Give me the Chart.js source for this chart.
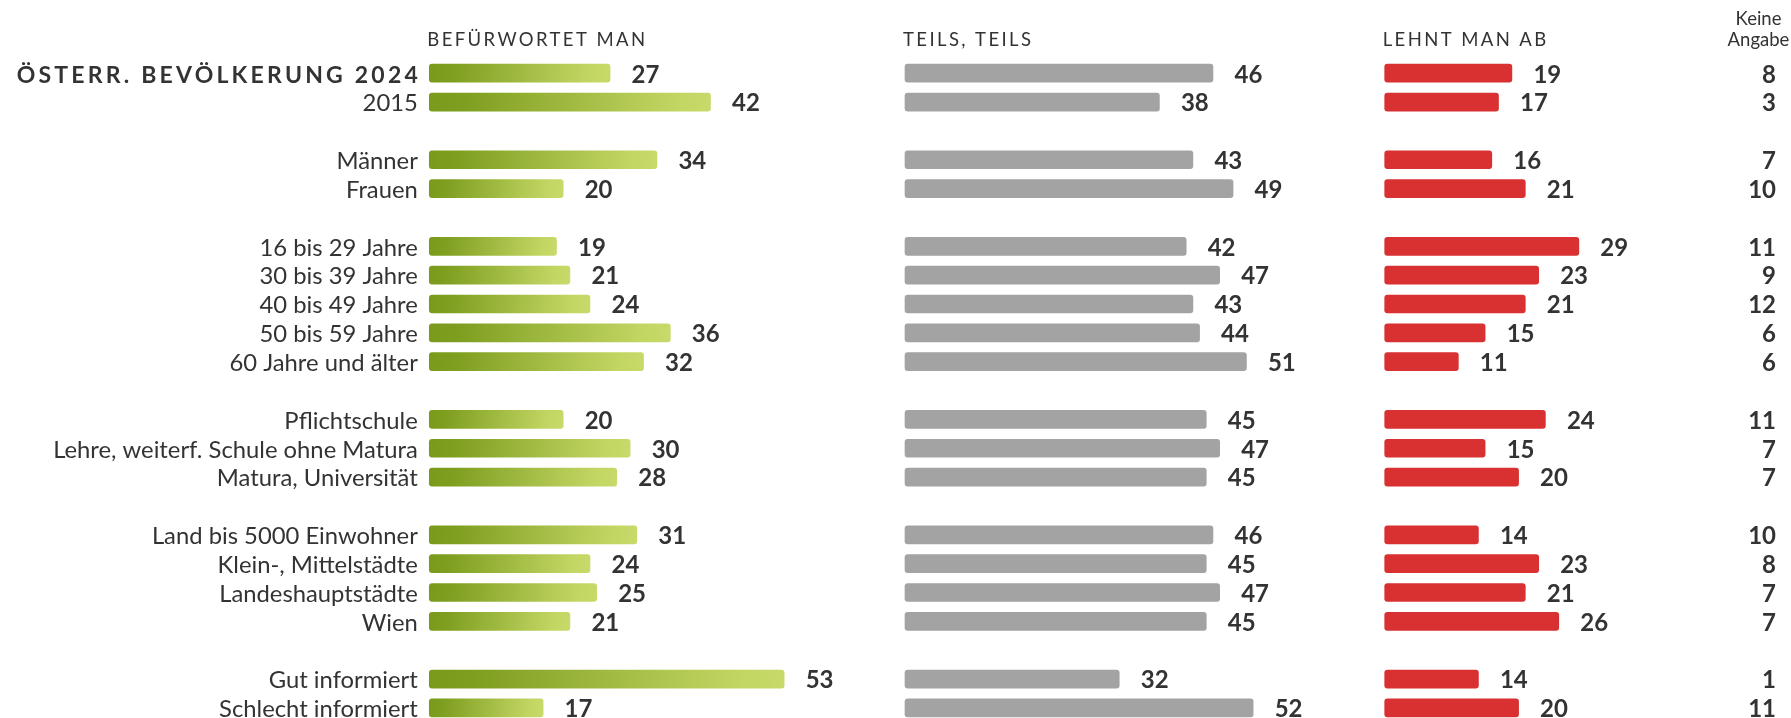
<!DOCTYPE html>
<html><head><meta charset="utf-8">
<script src="https://cdn.jsdelivr.net/npm/chart.js@4.4.1/dist/chart.umd.min.js"></script>
<style>
html,body{margin:0;padding:0;background:#fff;overflow:hidden;}
#wrap{position:relative;width:1791px;height:718px;}
#wrap canvas{position:absolute;left:0;top:0;}
</style></head><body>
<div id="wrap">
<canvas id="cA" width="1791" height="718"></canvas>
<canvas id="cB" width="1791" height="718"></canvas>
<canvas id="cC" width="1791" height="718"></canvas>
</div>
<script>
// ---- data ----
const categories = ["ÖSTERR. BEVÖLKERUNG 2024","2015","",
  "Männer","Frauen","",
  "16 bis 29 Jahre","30 bis 39 Jahre","40 bis 49 Jahre","50 bis 59 Jahre","60 Jahre und älter","",
  "Pflichtschule","Lehre, weiterf. Schule ohne Matura","Matura, Universität","",
  "Land bis 5000 Einwohner","Klein-, Mittelstädte","Landeshauptstädte","Wien","",
  "Gut informiert","Schlecht informiert"];
const befuerwortet = [27,42,null,34,20,null,19,21,24,36,32,null,20,30,28,null,31,24,25,21,null,53,17];
const teilsTeils   = [46,38,null,43,49,null,42,47,43,44,51,null,45,47,45,null,46,45,47,45,null,32,52];
const lehntAb      = [19,17,null,16,21,null,29,23,21,15,11,null,24,15,20,null,14,23,21,26,null,14,20];
const keineAngabe  = [8,3,null,7,10,null,11,9,12,6,6,null,11,7,7,null,10,8,7,7,null,1,11];
const columnHeaders = ["BEFÜRWORTET MAN","TEILS, TEILS","LEHNT MAN AB"];
const extraHeader = ["Keine","Angabe"];

// ---- style ----
const FONT = "Lato, 'Noto Sans', sans-serif";
const TEXT = '#333333';
const PPU = 6.695;          // pixels per percent
const W = 1791;
const PAD_TOP = 73.2, PAD_BOTTOM = 10.1;

function greenGradient(c) {
  const chart = c.chart;
  const xs = chart.scales.x, ys = chart.scales.y;
  if (!xs || !ys || c.raw == null || !chart.chartArea) return '#a0bd42';
  const x0 = xs.getPixelForValue(0), x1 = xs.getPixelForValue(c.raw);
  const y = ys.getPixelForValue(c.dataIndex);
  const g = chart.ctx.createLinearGradient(x0, y - 9, x1, y + 9);
  g.addColorStop(0, '#799a1a');
  g.addColorStop(0.12, '#7e9e1f');
  g.addColorStop(0.88, '#c2d663');
  g.addColorStop(1, '#c7da6a');
  return g;
}

const valueLabels = {
  id: 'valueLabels',
  afterDatasetsDraw(chart) {
    const ctx = chart.ctx;
    const meta = chart.getDatasetMeta(0);
    const data = chart.data.datasets[0].data;
    ctx.save();
    ctx.font = 'bold 24px ' + FONT;
    ctx.fillStyle = TEXT;
    ctx.textAlign = 'left';
    ctx.textBaseline = 'alphabetic';
    meta.data.forEach((bar, i) => {
      if (data[i] == null) return;
      ctx.fillText(String(data[i]), bar.x + 21.5, bar.y + 9.3);
    });
    ctx.restore();
  }
};

function headerPlugin(text) {
  return {
    id: 'hdr',
    afterDraw(chart) {
      const ctx = chart.ctx;
      ctx.save();
      ctx.font = '18.5px ' + FONT;
      ctx.fillStyle = TEXT;
      ctx.letterSpacing = '2.4px';
      ctx.textAlign = 'left';
      ctx.textBaseline = 'alphabetic';
      ctx.fillText(text, chart.chartArea.left - 2, 46);
      ctx.restore();
    }
  };
}

const categoryLabels = {
  id: 'catLabels',
  afterDraw(chart) {
    const ctx = chart.ctx;
    const ys = chart.scales.y;
    const xr = chart.chartArea.left - 11.5;
    ctx.save();
    ctx.fillStyle = TEXT;
    ctx.textBaseline = 'alphabetic';
    categories.forEach((lab, i) => {
      if (!lab) return;
      const y = ys.getPixelForValue(i) + 9.3;
      if (i === 0) {
        ctx.font = 'bold 23px ' + FONT;
        ctx.letterSpacing = '0px';
        const nat = ctx.measureText(lab).width;
        const target = 401;
        const sp = (target - nat) / (lab.length - 1);
        ctx.letterSpacing = sp.toFixed(2) + 'px';
        ctx.textAlign = 'right';
        ctx.fillText(lab, xr + sp, y);
        ctx.letterSpacing = '0px';
      } else {
        ctx.font = '23.8px ' + FONT;
        ctx.textAlign = 'right';
        ctx.fillText(lab, xr, y);
      }
    });
    ctx.restore();
  }
};

const keineColumn = {
  id: 'keine',
  afterDraw(chart) {
    const ctx = chart.ctx;
    const ys = chart.scales.y;
    ctx.save();
    ctx.fillStyle = TEXT;
    ctx.font = '18.5px ' + FONT;
    ctx.textAlign = 'center';
    ctx.textBaseline = 'alphabetic';
    ctx.fillText(extraHeader[0], 1758.5, 25);
    ctx.fillText(extraHeader[1], 1758.5, 46);
    ctx.font = 'bold 24px ' + FONT;
    ctx.textAlign = 'right';
    keineAngabe.forEach((v, i) => {
      if (v == null) return;
      ctx.fillText(String(v), 1776, ys.getPixelForValue(i) + 9.3);
    });
    ctx.restore();
  }
};

function makeChart(id, values, left, xMax, color, header, extra) {
  return new Chart(document.getElementById(id), {
    type: 'bar',
    data: {
      labels: categories,
      datasets: [{
        data: values,
        backgroundColor: color,
        borderWidth: 0,
        borderRadius: 3,
        borderSkipped: false,
        barThickness: 18,
        clip: false
      }]
    },
    options: {
      indexAxis: 'y',
      responsive: false,
      animation: false,
      devicePixelRatio: 1,
      events: [],
      layout: { padding: { left: left, right: W - left - xMax * PPU, top: PAD_TOP, bottom: PAD_BOTTOM } },
      scales: {
        x: { display: false, min: 0, max: xMax },
        y: { display: false, offset: false }
      },
      plugins: { legend: { display: false }, tooltip: { enabled: false }, title: { display: false } }
    },
    plugins: [valueLabels, headerPlugin(header)].concat(extra)
  });
}

function build() {
  makeChart('cA', befuerwortet, 429.3, 60, greenGradient, columnHeaders[0], [categoryLabels]);
  makeChart('cB', teilsTeils, 905, 60, '#a3a3a3', columnHeaders[1], []);
  makeChart('cC', lehntAb, 1384.7, 40, '#d93131', columnHeaders[2], [keineColumn]);
}

Promise.all([
  document.fonts.load('22px Lato'),
  document.fonts.load('bold 23px Lato')
]).then(build, build);
</script>
</body></html>
